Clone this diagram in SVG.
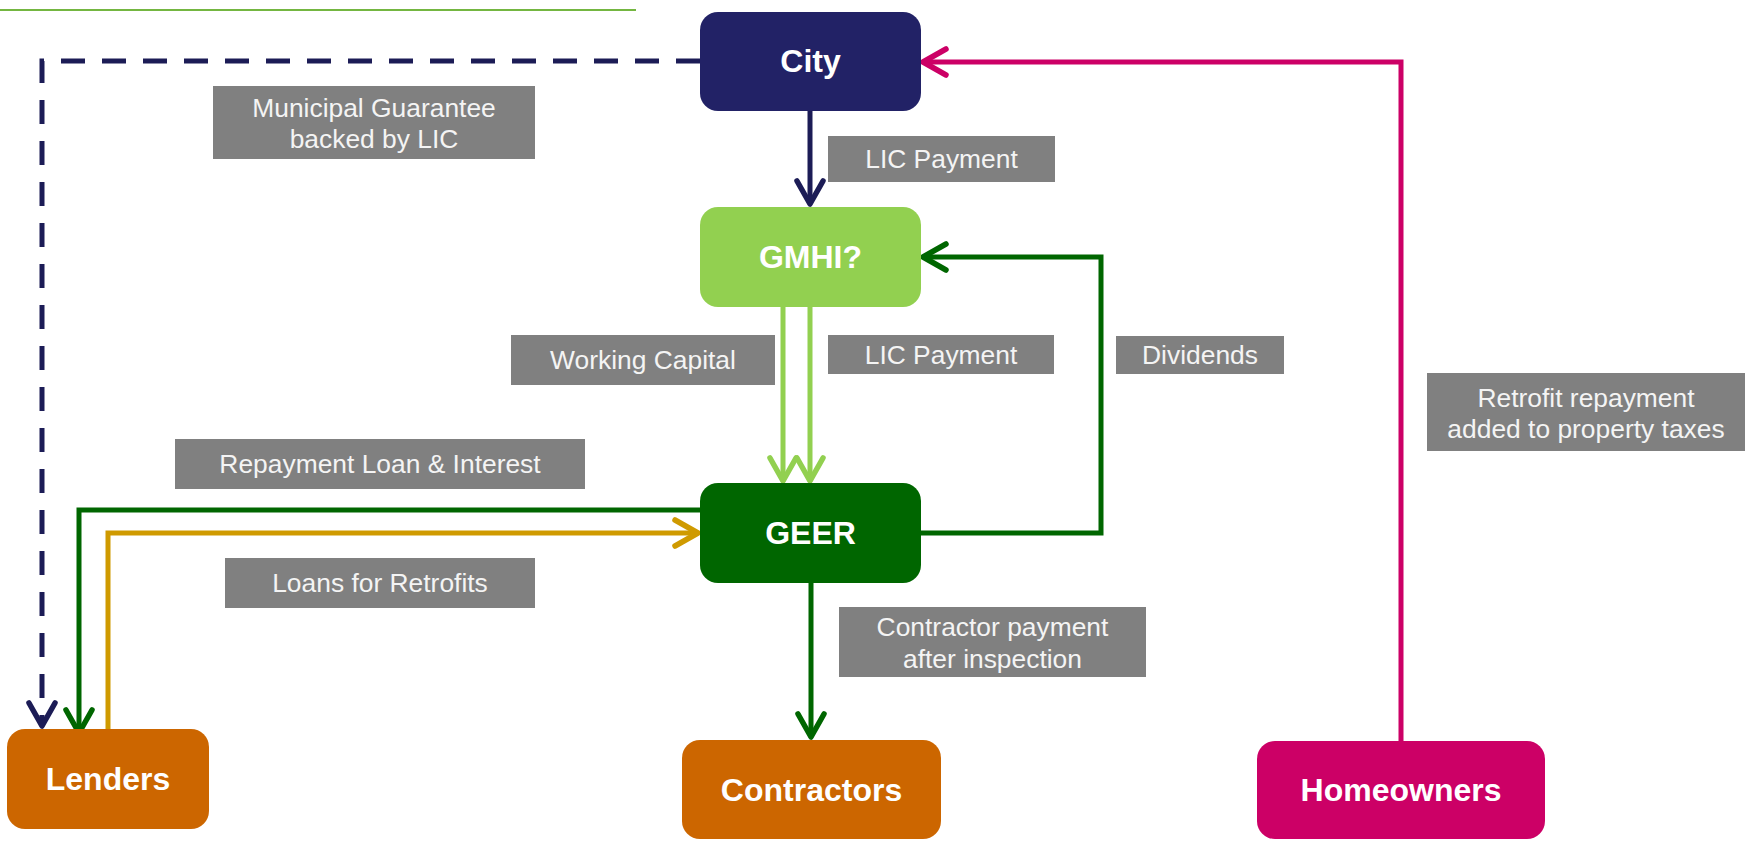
<svg xmlns="http://www.w3.org/2000/svg" width="1753" height="841" viewBox="0 0 1753 841">
  <style>
    .node text { font-family: "Liberation Sans", Arial, sans-serif; font-weight: bold; font-size: 32px; fill: #ffffff; text-anchor: middle; }
    .label rect { fill: #808080; }
    .label text { font-family: "Liberation Sans", Arial, sans-serif; font-size: 26.4px; fill: #f4f4f4; text-anchor: middle; }
    .flow { fill: none; stroke-width: 5; stroke-linejoin: miter; }
    .head { fill: none; stroke-width: 5.5; stroke-linecap: round; stroke-linejoin: round; }
  </style>
  <defs>
    <!-- open chevron arrowheads, one per connector colour -->
    <marker id="ah-navy" markerUnits="userSpaceOnUse" markerWidth="40" markerHeight="40" viewBox="-30 -20 40 40" refX="0" refY="0" orient="auto" overflow="visible">
      <path class="head" d="M-23,-13 L0,0 L-23,13" stroke="#1c1c56"/>
    </marker>
    <marker id="ah-lime" markerUnits="userSpaceOnUse" markerWidth="40" markerHeight="40" viewBox="-30 -20 40 40" refX="0" refY="0" orient="auto" overflow="visible">
      <path class="head" d="M-23,-13 L0,0 L-23,13" stroke="#92d050"/>
    </marker>
    <marker id="ah-green" markerUnits="userSpaceOnUse" markerWidth="40" markerHeight="40" viewBox="-30 -20 40 40" refX="0" refY="0" orient="auto" overflow="visible">
      <path class="head" d="M-23,-13 L0,0 L-23,13" stroke="#006600"/>
    </marker>
    <marker id="ah-gold" markerUnits="userSpaceOnUse" markerWidth="40" markerHeight="40" viewBox="-30 -20 40 40" refX="0" refY="0" orient="auto" overflow="visible">
      <path class="head" d="M-23,-13 L0,0 L-23,13" stroke="#cf9a00"/>
    </marker>
    <marker id="ah-pink" markerUnits="userSpaceOnUse" markerWidth="40" markerHeight="40" viewBox="-30 -20 40 40" refX="0" refY="0" orient="auto" overflow="visible">
      <path class="head" d="M-23,-13 L0,0 L-23,13" stroke="#cc0066"/>
    </marker>
  </defs>

  <rect width="1753" height="841" fill="#ffffff"/>

  <!-- header rule -->
  <line x1="0" y1="10" x2="636" y2="10" stroke="#74b641" stroke-width="2"/>

  <!-- connectors -->
  <g id="connectors">
    <!-- City guarantee to Lenders (dashed) -->
    <path class="flow" d="M700,61 H42 V726" stroke="#1c1c56" stroke-dasharray="24 17" marker-end="url(#ah-navy)"/>
    <!-- City to GMHI: LIC payment -->
    <path class="flow" d="M810,111 V204" stroke="#1c1c56" marker-end="url(#ah-navy)"/>
    <!-- GMHI to GEER: working capital / LIC payment -->
    <path class="flow" d="M783,307 V481" stroke="#92d050" marker-end="url(#ah-lime)"/>
    <path class="flow" d="M810,307 V481" stroke="#92d050" marker-end="url(#ah-lime)"/>
    <!-- GEER to GMHI: dividends -->
    <path class="flow" d="M921,533 H1101 V257 H923" stroke="#006600" marker-end="url(#ah-green)"/>
    <!-- GEER to Lenders: repayment -->
    <path class="flow" d="M700,510 H79 V733" stroke="#006600" marker-end="url(#ah-green)"/>
    <!-- Lenders to GEER: loans -->
    <path class="flow" d="M108,729 V533 H698" stroke="#cf9a00" marker-end="url(#ah-gold)"/>
    <!-- GEER to Contractors -->
    <path class="flow" d="M811,583 V737" stroke="#006600" marker-end="url(#ah-green)"/>
    <!-- Homeowners to City: property taxes -->
    <path class="flow" d="M1401,741 V62 H923" stroke="#cc0066" marker-end="url(#ah-pink)"/>
  </g>

  <!-- nodes -->
  <g id="node-city" class="node">
    <rect x="700" y="12" width="221" height="99" rx="18" fill="#222266"/>
    <text x="810.5" y="72">City</text>
  </g>
  <g id="node-gmhi" class="node">
    <rect x="700" y="207" width="221" height="100" rx="18" fill="#92d050"/>
    <text x="810.5" y="268">GMHI?</text>
  </g>
  <g id="node-geer" class="node">
    <rect x="700" y="483" width="221" height="100" rx="18" fill="#006600"/>
    <text x="810.5" y="544">GEER</text>
  </g>
  <g id="node-lenders" class="node">
    <rect x="7" y="729" width="202" height="100" rx="18" fill="#cc6600"/>
    <text x="108" y="790">Lenders</text>
  </g>
  <g id="node-contractors" class="node">
    <rect x="682" y="740" width="259" height="99" rx="18" fill="#cc6600"/>
    <text x="811.5" y="801">Contractors</text>
  </g>
  <g id="node-homeowners" class="node">
    <rect x="1257" y="741" width="288" height="98" rx="18" fill="#cc0066"/>
    <text x="1401" y="801">Homeowners</text>
  </g>

  <!-- flow labels -->
  <g id="label-guarantee" class="label">
    <rect x="213" y="86" width="322" height="73"/>
    <text x="374" y="117">Municipal Guarantee</text>
    <text x="374" y="148">backed by LIC</text>
  </g>
  <g id="label-lic-top" class="label">
    <rect x="828" y="136" width="227" height="46"/>
    <text x="941.5" y="168">LIC Payment</text>
  </g>
  <g id="label-working-capital" class="label">
    <rect x="511" y="335" width="264" height="50"/>
    <text x="643" y="369">Working Capital</text>
  </g>
  <g id="label-lic-mid" class="label">
    <rect x="828" y="335" width="226" height="39"/>
    <text x="941" y="364">LIC Payment</text>
  </g>
  <g id="label-dividends" class="label">
    <rect x="1116" y="336" width="168" height="38"/>
    <text x="1200" y="364">Dividends</text>
  </g>
  <g id="label-retrofit" class="label">
    <rect x="1427" y="373" width="318" height="78"/>
    <text x="1586" y="407">Retrofit repayment</text>
    <text x="1586" y="438">added to property taxes</text>
  </g>
  <g id="label-repayment" class="label">
    <rect x="175" y="439" width="410" height="50"/>
    <text x="380" y="473">Repayment Loan &amp; Interest</text>
  </g>
  <g id="label-loans" class="label">
    <rect x="225" y="558" width="310" height="50"/>
    <text x="380" y="592">Loans for Retrofits</text>
  </g>
  <g id="label-contractor-payment" class="label">
    <rect x="839" y="607" width="307" height="70"/>
    <text x="992.5" y="636">Contractor payment</text>
    <text x="992.5" y="668">after inspection</text>
  </g>
</svg>
